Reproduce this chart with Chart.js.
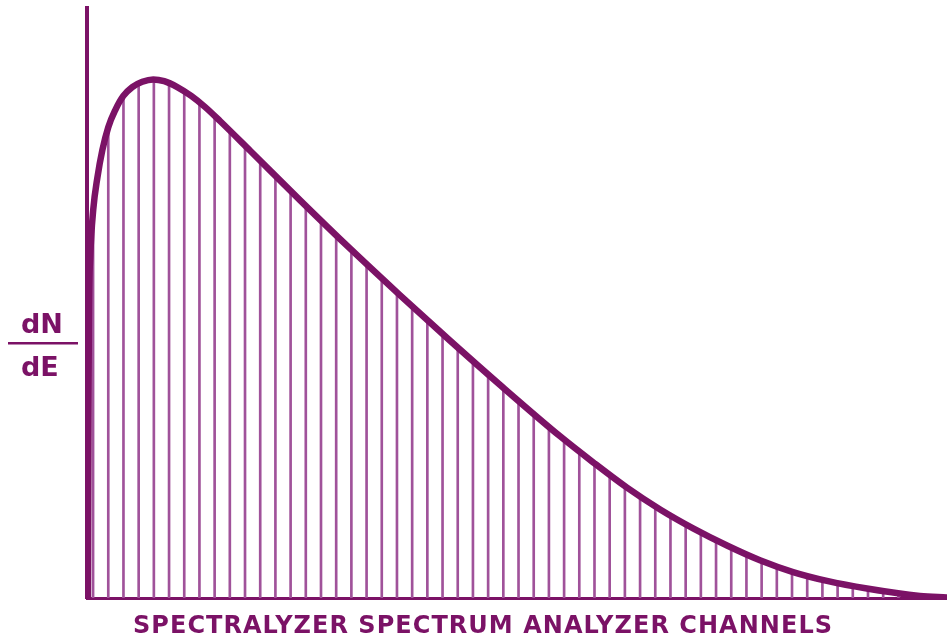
<!DOCTYPE html>
<html>
<head>
<meta charset="utf-8">
<script src="https://cdn.jsdelivr.net/npm/chart.js@4.4.0/dist/chart.umd.min.js"></script>
<style>
html,body{margin:0;padding:0;background:#ffffff;}
#wrap{position:relative;width:947px;height:641px;}
</style>
</head>
<body>
<div id="wrap"><canvas id="c" width="947" height="641"></canvas></div>
<script>
// Spectrum envelope (x in channel units, y in relative dN/dE units, 0..100)
const curveX = [-0.34, -0.28, -0.18, 0.01, 0.28, 0.61, 1.00, 1.46, 1.99, 2.58, 3.24, 3.96, 4.68, 5.54, 6.46, 7.38, 8.37, 10.34, 13.63, 16.92, 20.21, 23.50, 26.79, 30.74, 32.91, 35.14, 37.32, 39.49, 41.72, 43.89, 46.07, 48.30, 50.93, 54.42, 56.2];
const curveY = [0, 45.4, 58.1, 65.8, 71.2, 75.9, 79.8, 82.7, 85.1, 86.6, 87.5, 87.9, 87.6, 86.6, 85.1, 83.2, 80.8, 75.8, 67.4, 59.2, 51.3, 43.6, 36.1, 27.4, 23.0, 18.7, 15.0, 11.8, 8.9, 6.4, 4.4, 2.9, 1.6, 0.35, 0.1];

// Analyzer channels (vertical lines)
const channels = [0,1,2,3,4,5,6,7,8,9,10,11,12,13,14,15,16,17,18,19,20,21,22,23,24,25,26,27,28,29,30,31,32,33,34,35,36,37,38,39,40,41,42,43,44,45,46,47,48,49,50,51,52,53];
const channelCounts = [65.8, 79.8, 85.1, 87.3, 87.9, 87.3, 85.8, 83.9, 81.4, 78.9, 76.3, 73.8, 71.2, 68.7, 66.2, 63.8, 61.4, 59.0, 56.6, 54.2, 51.8, 49.5, 47.2, 44.9, 42.6, 40.3, 38.1, 35.8, 33.5, 31.3, 29.0, 26.7, 24.7, 22.7, 20.8, 18.9, 17.2, 15.4, 13.9, 12.4, 11.0, 9.7, 8.5, 7.4, 6.3, 5.4, 4.5, 3.8, 3.2, 2.6, 2.0, 1.5, 1.1, 0.8];

const xTitle = 'SPECTRALYZER SPECTRUM ANALYZER CHANNELS';
const yTitleTop = 'dN';
const yTitleBottom = 'dE';

const DARK = '#7b1266';
const LIGHT = '#a0529a';

const curveData = curveX.map((x, i) => ({x: x, y: curveY[i]}));
const barData = channels.map((x, i) => ({x: x, y: channelCounts[i]}));

const textPlugin = {
  id: 'texts',
  afterDraw(chart) {
    const ctx = chart.ctx;
    ctx.save();
    ctx.fillStyle = DARK;
    ctx.textBaseline = 'alphabetic';
    ctx.textAlign = 'left';
    // x-axis caption
    ctx.font = 'bold 24px "DejaVu Sans", "Liberation Sans", sans-serif';
    ctx.letterSpacing = '0px';
    const w0 = ctx.measureText(xTitle).width;
    const targetW = 699;
    const sp = (targetW - w0) / (xTitle.length - 1);
    ctx.letterSpacing = sp + 'px';
    ctx.fillText(xTitle, 133, 633);
    // dN / dE fraction
    ctx.font = 'bold 27px "DejaVu Sans", "Liberation Sans", sans-serif';
    ctx.letterSpacing = '0px';
    ctx.fillText(yTitleTop, 21, 333);
    ctx.fillText(yTitleBottom, 21, 376);
    ctx.fillRect(8, 342, 70, 2.5);
    ctx.restore();
  }
};

new Chart(document.getElementById('c'), {
  data: {
    datasets: [
      {
        type: 'line',
        data: curveData,
        borderColor: DARK,
        borderWidth: 6.5,
        borderCapStyle: 'round',
        borderJoinStyle: 'round',
        cubicInterpolationMode: 'monotone',
        pointRadius: 0,
        fill: false,
        order: 0
      },
      {
        type: 'bar',
        data: barData,
        backgroundColor: LIGHT,
        borderWidth: 0,
        barThickness: 2,
        order: 1
      }
    ]
  },
  options: {
    responsive: false,
    animation: false,
    devicePixelRatio: 1,
    layout: { padding: { left: 87, top: 8, right: 0, bottom: 43 } },
    plugins: { legend: { display: false }, tooltip: { enabled: false }, title: { display: false } },
    scales: {
      x: {
        type: 'linear',
        min: -0.4,
        max: 56.2,
        offset: false,
        grid: { display: false, drawTicks: false },
        ticks: { display: false },
        border: { display: true, color: DARK, width: 3 }
      },
      y: {
        type: 'linear',
        min: 0,
        max: 100,
        grid: { display: false, drawTicks: false },
        ticks: { display: false },
        border: { display: true, color: DARK, width: 4 }
      }
    }
  },
  plugins: [textPlugin]
});
</script>
</body>
</html>
